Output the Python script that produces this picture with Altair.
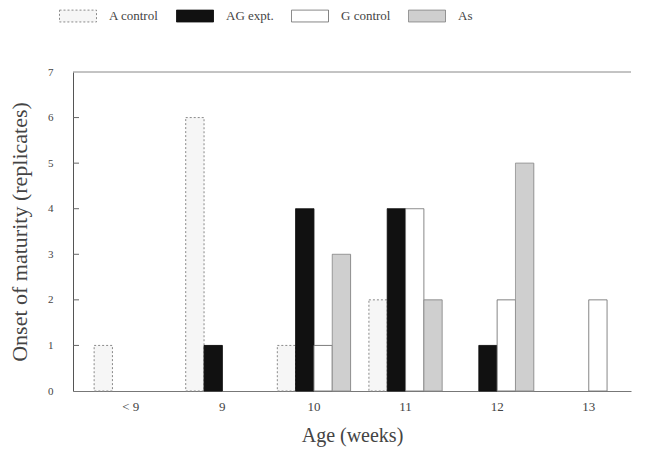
import altair as alt
import pandas as pd

groups = ["< 9", "9", "10", "11", "12", "13"]
series = ["A control", "AG expt.", "G control", "As"]
a_control = [1, 6, 1, 2, 0, 0]
ag_expt = [0, 1, 4, 4, 1, 0]
g_control = [0, 0, 1, 4, 2, 2]
as_vals = [0, 0, 3, 2, 5, 0]
y_ticks = [0, 1, 2, 3, 4, 5, 6, 7]

fills = ["#f6f6f6", "#111111", "#ffffff", "#cfcfcf"]
strokes = ["#8a8a8a", "#111111", "#777777", "#8a8a8a"]
dashes = [[2, 2], [1, 0], [1, 0], [1, 0]]

rows = []
for s, vals in zip(series, [a_control, ag_expt, g_control, as_vals]):
    for g, v in zip(groups, vals):
        rows.append({"age": g, "series": s, "count": v})
df = pd.DataFrame(rows)

FONT = "Liberation Serif"
GREY = "#444444"

ysc = alt.Scale(domain=[0, 7], nice=False, zero=True)

legend = alt.Legend(title=None, orient="none", legendX=-14, legendY=-75,
                    direction="horizontal",
                    symbolType="M-1,-0.32H1V0.32H-1Z", symbolSize=1369,
                    symbolStrokeWidth=1, labelFont=FONT, labelFontSize=13,
                    labelColor=GREY, labelOffset=12, columnPadding=15)

bars = alt.Chart(df).transform_filter("datum.count > 0").mark_bar(strokeWidth=1).encode(
    x=alt.X("age:N", sort=groups,
            scale=alt.Scale(domain=groups, paddingInner=0.2, paddingOuter=0.146, align=0.79),
            axis=alt.Axis(title="Age  (weeks)", labelAngle=0, ticks=False,
                          labelPadding=9, titlePadding=12, domainColor="#777777",
                          labelFont=FONT, labelFontSize=13, labelColor=GREY,
                          titleFont=FONT, titleFontSize=20, titleFontWeight="normal",
                          titleColor=GREY)),
    xOffset=alt.XOffset("series:N", sort=series,
                        scale=alt.Scale(domain=series, paddingInner=0, paddingOuter=0)),
    y=alt.Y("count:Q", scale=ysc,
            axis=alt.Axis(title="Onset of maturity (replicates)", values=y_ticks,
                          ticks=False, labelPadding=20, titlePadding=16,
                          domainColor="#555555", grid=False,
                          labelFont=FONT, labelFontSize=11, labelColor=GREY,
                          titleFont=FONT, titleFontSize=22, titleFontWeight="normal",
                          titleColor=GREY)),
    fill=alt.Fill("series:N", sort=series,
                  scale=alt.Scale(domain=series, range=fills), legend=legend),
    stroke=alt.Stroke("series:N", sort=series,
                      scale=alt.Scale(domain=series, range=strokes), legend=legend),
    strokeDash=alt.StrokeDash("series:N", sort=series,
                              scale=alt.Scale(domain=series, range=dashes), legend=legend),
)

tick_df = pd.DataFrame({"v": y_ticks[1:-1]})
inner_ticks = alt.Chart(tick_df).mark_rule(strokeWidth=1).encode(
    y=alt.Y("v:Q", scale=ysc),
    x=alt.value(0),
    x2=alt.value(6),
    color=alt.value("#666666"),
)

top_line = alt.Chart(pd.DataFrame({"v": [7]})).mark_rule(strokeWidth=1).encode(
    y=alt.Y("v:Q", scale=ysc),
    color=alt.value("#888888"),
)

chart = alt.layer(bars, inner_ticks, top_line).properties(
    width=558, height=319,
    autosize=alt.AutoSizeParams(type="none"),
    padding={"left": 65, "top": 64, "right": 8, "bottom": 57},
    background="white",
).configure_view(stroke="transparent", strokeWidth=0)

chart.save("out.html", embed_options={"renderer": "svg", "actions": False})
